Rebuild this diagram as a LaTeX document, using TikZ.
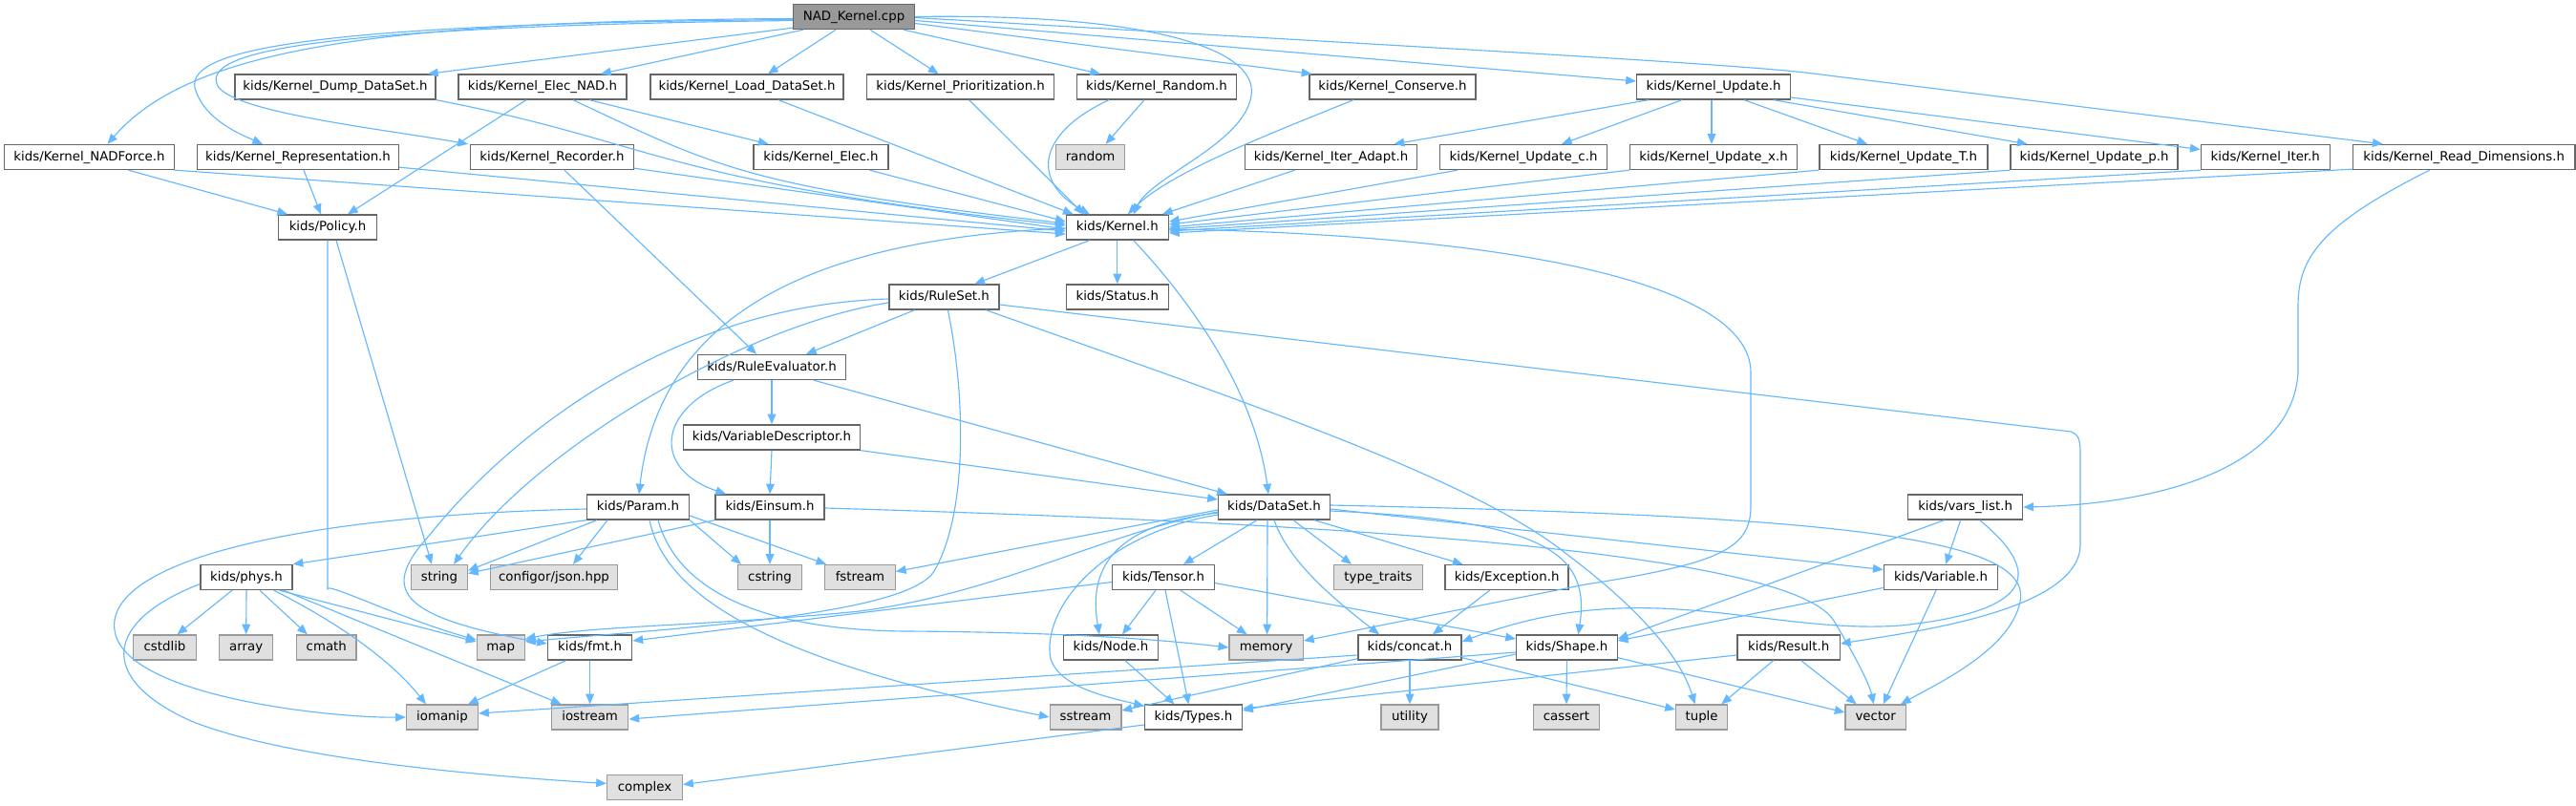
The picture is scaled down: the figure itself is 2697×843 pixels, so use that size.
\documentclass[tikz,border=0pt]{standalone}
\usepackage{fontspec}
\setmainfont{DejaVu Sans}
\usetikzlibrary{arrows.meta,calc}
\definecolor{edgec}{HTML}{63B8FF}
\definecolor{extfill}{HTML}{E0E0E0}
\definecolor{extdraw}{HTML}{999999}
\definecolor{nddraw}{HTML}{666666}
\definecolor{rootfill}{HTML}{999999}
\begin{document}
\begin{tikzpicture}[x=0.75pt,y=-0.75pt,
  nd/.style={draw=nddraw, fill=white, line width=1pt, minimum height=19.5pt, inner sep=0pt,
    font=\fontsize{10}{12}\selectfont, text height=7.4pt, text depth=2.1pt, text=black},
  ext/.style={nd, draw=extdraw, fill=extfill},
  root/.style={nd, fill=rootfill},
  dep/.style={draw=edgec, line width=0.85pt, -{Triangle[length=8pt,width=6.5pt]}},
]
\fill[white] (0,0) rectangle (2697,843);
\useasboundingbox (0,0) rectangle (2697,843);

% ---------- nodes ----------
\node[root, minimum width=95.25pt] (cpp) at (894,17.5) {NAD\_Kernel.cpp};

\node[nd, minimum width=157.5pt] (dump) at (351,91) {kids/Kernel\_Dump\_DataSet.h};
\node[nd, minimum width=132pt] (elecnad) at (568,91) {kids/Kernel\_Elec\_NAD.h};
\node[nd, minimum width=151.5pt] (load) at (782,91) {kids/Kernel\_Load\_DataSet.h};
\node[nd, minimum width=147pt] (prio) at (1005.6,91) {kids/Kernel\_Prioritization.h};
\node[nd, minimum width=125.25pt] (random) at (1211,91) {kids/Kernel\_Random.h};
\node[nd, minimum width=130.5pt] (conserve) at (1458,91) {kids/Kernel\_Conserve.h};
\node[nd, minimum width=120.75pt] (update) at (1794,91) {kids/Kernel\_Update.h};

\node[nd, minimum width=133.5pt] (nadforce) at (93.5,164.5) {kids/Kernel\_NADForce.h};
\node[nd, minimum width=158.25pt] (repr) at (312,164.5) {kids/Kernel\_Representation.h};
\node[nd, minimum width=127.9pt] (recorder) at (578,164.5) {kids/Kernel\_Recorder.h};
\node[nd, minimum width=105.75pt] (elec) at (859.5,164.5) {kids/Kernel\_Elec.h};
\node[ext, minimum width=54pt] (stdrandom) at (1141.6,164.5) {random};
\node[nd, minimum width=135pt] (iteradapt) at (1393.6,164.5) {kids/Kernel\_Iter\_Adapt.h};
\node[nd, minimum width=130.9pt] (updc) at (1595,164.5) {kids/Kernel\_Update\_c.h};
\node[nd, minimum width=131.25pt] (updx) at (1794,164.5) {kids/Kernel\_Update\_x.h};
\node[nd, minimum width=132pt] (updT) at (1993,164.5) {kids/Kernel\_Update\_T.h};
\node[nd, minimum width=131.25pt] (updp) at (2192.6,164.5) {kids/Kernel\_Update\_p.h};
\node[nd, minimum width=101.25pt] (iter) at (2371.8,164.5) {kids/Kernel\_Iter.h};
\node[nd, minimum width=174.5pt] (readdim) at (2579.7,164.5) {kids/Kernel\_Read\_Dimensions.h};

\node[nd, minimum width=77.25pt] (policy) at (343,238) {kids/Policy.h};
\node[nd, minimum width=80.25pt] (kernel) at (1169.8,238) {kids/Kernel.h};

\node[nd, minimum width=86.25pt] (ruleset) at (988.4,311) {kids/RuleSet.h};
\node[nd, minimum width=80.25pt] (status) at (1169.8,311) {kids/Status.h};

\node[nd, minimum width=116.25pt] (ruleeval) at (808,384.5) {kids/RuleEvaluator.h};
\node[nd, minimum width=138.75pt] (vardesc) at (808,458) {kids/VariableDescriptor.h};

\node[nd, minimum width=80.25pt] (param) at (668,531) {kids/Param.h};
\node[nd, minimum width=85.5pt] (einsum) at (806,531) {kids/Einsum.h};
\node[nd, minimum width=87.75pt] (dataset) at (1334,531) {kids/DataSet.h};
\node[nd, minimum width=90pt] (varslist) at (2057.6,531) {kids/vars\_list.h};

\node[nd, minimum width=72pt] (phys) at (258,604.5) {kids/phys.h};
\node[ext, minimum width=44pt] (sstring) at (460,604.5) {string};
\node[ext, minimum width=99.75pt] (json) at (580,604.5) {configor/json.hpp};
\node[ext, minimum width=50pt] (cstring) at (806,604.5) {cstring};
\node[ext, minimum width=55.1pt] (fstream) at (900.5,604.5) {fstream};
\node[nd, minimum width=80.25pt] (tensor) at (1218,604.5) {kids/Tensor.h};
\node[ext, minimum width=69.3pt] (typetraits) at (1443,604.5) {type\_traits};
\node[nd, minimum width=96.75pt] (exception) at (1577.6,604.5) {kids/Exception.h};
\node[nd, minimum width=89.6pt] (variable) at (2032,604.5) {kids/Variable.h};

\node[ext, minimum width=49.5pt] (cstdlib) at (172.5,678) {cstdlib};
\node[ext, minimum width=42pt] (sarray) at (257.7,678) {array};
\node[ext, minimum width=46.9pt] (cmath) at (341.8,678) {cmath};
\node[ext, minimum width=37.5pt] (smap) at (524.3,678) {map};
\node[nd, minimum width=66.3pt] (fmt) at (617.6,678) {kids/fmt.h};
\node[nd, minimum width=74.5pt] (kidsnode) at (1163,678) {kids/Node.h};
\node[ext, minimum width=58.1pt] (memory) at (1325.6,678) {memory};
\node[nd, minimum width=81pt] (concat) at (1476,678) {kids/concat.h};
\node[nd, minimum width=79.2pt] (shape) at (1640.4,678) {kids/Shape.h};
\node[nd, minimum width=80.5pt] (result) at (1872.7,678) {kids/Result.h};

\node[ext, minimum width=56.25pt] (iomanip) at (463,751) {iomanip};
\node[ext, minimum width=60.3pt] (iostream) at (617.6,751) {iostream};
\node[ext, minimum width=56pt] (sstream) at (1136.5,751) {sstream};
\node[nd, minimum width=76.5pt] (types) at (1249.5,751) {kids/Types.h};
\node[ext, minimum width=44.8pt] (utility) at (1476,751) {utility};
\node[ext, minimum width=52.1pt] (cassert) at (1640,751) {cassert};
\node[ext, minimum width=40.5pt] (stuple) at (1781.6,751) {tuple};
\node[ext, minimum width=47.4pt] (svector) at (1963.7,751) {vector};

\node[ext, minimum width=59.25pt] (complex) at (675,824.5) {complex};

% ---------- edges from NAD_Kernel.cpp ----------
\draw[dep] ($(cpp.west)+(0,2)$) .. controls (400,22) and (200,50) .. ($(nadforce.north)+(19,0)$);
\draw[dep] ($(cpp.west)+(0,3)$) .. controls (300,25) and (190,55) .. (205,95) .. controls (215,125) and (250,140) .. ($(repr.north)+(-37,0)$);
\draw[dep] ($(cpp.west)+(0,4)$) .. controls (320,28) and (210,55) .. (228,90) .. controls (245,118) and (400,135) .. ($(recorder.north west)+(-2,0)$);
\draw[dep] ($(cpp.south west)+(0,-2)$) -- ($(dump.north)+(97,0)$);
\draw[dep] ($(cpp.south)+(-53,0)$) -- ($(elecnad.north)+(61,0)$);
\draw[dep] ($(cpp.south)+(-19,0)$) -- ($(load.north)+(22,0)$);
\draw[dep] ($(cpp.south)+(17,0)$) -- ($(prio.north)+(-23,0)$);
\draw[dep] ($(cpp.south)+(52,0)$) -- ($(random.north)+(-59,0)$);
\draw[dep] ($(cpp.east)+(0,7)$) -- ($(conserve.north west)+(3,0)$);
\draw[dep] ($(cpp.east)+(0,4)$) -- ($(update.west)+(0,-6)$);
\draw[dep] ($(cpp.east)+(0,1)$) .. controls (1500,50) and (1800,66) .. (1890,76) -- ($(readdim.north)+(-85,0)$);
\draw[dep] (cpp.east) .. controls (1200,14) and (1318,50) .. (1310,100) .. controls (1303,150) and (1205,185) .. ($(kernel.north)+(17,0)$);

% ---------- row 1 ----------
\draw[dep] (dump.south east) .. controls (690,150) and (690,190) .. ($(kernel.west)+(0,-2)$);
\draw[dep] ($(elecnad.south)+(32,0)$) .. controls (750,175) and (780,195) .. ($(kernel.west)+(0,-4)$);
\draw[dep] ($(elecnad.south)+(49,0)$) -- ($(elec.north)+(-55,0)$);
\draw[dep] ($(elecnad.south)+(-17,0)$) -- ($(policy.north)+(21,0)$);
\draw[dep] ($(load.south)+(33,0)$) -- ($(kernel.north west)+(8,0)$);
\draw[dep] ($(prio.south)+(9,0)$) -- ($(kernel.north)+(-35,0)$);
\draw[dep] ($(random.south)+(-50,0)$) .. controls (1085,140) and (1080,190) .. ($(kernel.north)+(-29,0)$);
\draw[dep] ($(random.south)+(-13,0)$) -- ($(stdrandom.north)+(16,0)$);
\draw[dep] ($(conserve.south)+(-41,0)$) .. controls (1330,140) and (1225,180) .. ($(kernel.north)+(11,0)$);
\draw[dep] ($(update.south)+(-68,0)$) -- ($(iteradapt.north)+(66,0)$);
\draw[dep] ($(update.south)+(-33,0)$) -- ($(updc.north)+(40,0)$);
\draw[dep] ($(update.south)+(-2,0)$) -- ($(updx.north)+(-2,0)$);
\draw[dep] ($(update.south)+(32,0)$) -- ($(updT.north)+(-38,0)$);
\draw[dep] ($(update.south)+(63,0)$) -- ($(updp.north)+(-70,0)$);
\draw[dep] ($(update.east)+(0,11)$) -- ($(iter.west)+(0,-8)$);

% ---------- row 2 ----------
\draw[dep] ($(nadforce.south)+(41,0)$) -- ($(policy.north)+(-42,0)$);
\draw[dep] (nadforce.south east) -- ($(kernel.west)+(0,7)$);
\draw[dep] ($(repr.south)+(6,0)$) -- ($(policy.north)+(-7,0)$);
\draw[dep] ($(repr.south east)+(0,-3)$) -- ($(kernel.west)+(0,4)$);
\draw[dep] ($(recorder.south east)+(0,-2)$) -- ($(kernel.west)+(0,2)$);
\draw[dep] ($(recorder.south)+(13,0)$) -- ($(ruleeval.north)+(-16,0)$);
\draw[dep] ($(elec.south)+(51,0)$) -- ($(kernel.west)+(0,-6)$);
\draw[dep] ($(iteradapt.south)+(-38,0)$) -- ($(kernel.north east)+(-7,0)$);
\draw[dep] ($(updc.south)+(-69,0)$) -- ($(kernel.east)+(0,-6)$);
\draw[dep] (updx.south west) -- ($(kernel.east)+(0,-3)$);
\draw[dep] (updT.south west) -- ($(kernel.east)+(0,0)$);
\draw[dep] (updp.south west) -- ($(kernel.east)+(0,2)$);
\draw[dep] (iter.south west) -- ($(kernel.east)+(0,4)$);
\draw[dep] ($(readdim.south west)+(0,-1)$) -- ($(kernel.east)+(0,6)$);
\draw[dep] ($(readdim.south)+(-36,0)$) .. controls (2430,235) and (2406,270) .. (2406,320) -- (2406,390) .. controls (2400,490) and (2260,528) .. (varslist.east);

% ---------- Policy ----------
\draw[dep] ($(policy.south)+(9,0)$) -- ($(sstring.north)+(-8,0)$);
\draw[dep] (policy.south) -- ($(policy.south)+(0,365)$) .. controls (343,610) and (420,648) .. ($(smap.west)+(0,-8)$);

% ---------- Kernel.h ----------
\draw[dep] ($(kernel.south)+(-29,0)$) -- ($(ruleset.north)+(32,0)$);
\draw[dep] (kernel.south) -- (status.north);
\draw[dep] ($(kernel.south)+(17,0)$) .. controls (1260,330) and (1315,420) .. ($(dataset.north)+(-6,0)$);
\draw[dep] ($(kernel.west)+(0,1)$) .. controls (850,250) and (690,330) .. ($(param.north)+(1,0)$);
\draw[dep] ($(kernel.east)+(0,2)$) .. controls (1550,245) and (1833,290) .. (1833,390) -- (1833,530) .. controls (1833,575) and (1800,590) .. (1660,612) -- ($(memory.east)+(0,-7)$);

% ---------- RuleSet ----------
\draw[dep] ($(ruleset.south)+(-31,0)$) -- ($(ruleeval.north)+(36,0)$);
\draw[dep] ($(ruleset.west)+(0,6)$) .. controls (780,340) and (560,470) .. ($(sstring.north)+(15,0)$);
\draw[dep] ($(ruleset.west)+(0,2)$) .. controls (700,320) and (530,460) .. (450,560) .. controls (400,615) and (410,645) .. ($(fmt.west)+(0,-4)$);
\draw[dep] ($(ruleset.south)+(4,0)$) .. controls (1012,420) and (1012,540) .. (978,598) .. controls (950,645) and (700,658) .. ($(smap.east)+(0,-6)$);
\draw[dep] ($(ruleset.south)+(44,0)$) .. controls (1300,420) and (1540,500) .. (1640,580) .. controls (1720,640) and (1760,690) .. ($(stuple.north)+(-7,0)$);
\draw[dep] ($(ruleset.east)+(0,8)$) -- (2168,452) .. controls (2176,455) and (2178,460) .. (2178,475) -- (2178,570) .. controls (2178,640) and (2000,662) .. ($(result.east)+(0,-4)$);

% ---------- RuleEvaluator / VariableDescriptor ----------
\draw[dep] (ruleeval.south) -- (vardesc.north);
\draw[dep] ($(ruleeval.south)+(-40,0)$) .. controls (690,425) and (680,490) .. ($(einsum.north)+(-46,0)$);
\draw[dep] ($(ruleeval.south)+(44,0)$) -- ($(dataset.north west)+(10,0)$);
\draw[dep] (vardesc.south) -- (einsum.north);
\draw[dep] (vardesc.south east) -- ($(dataset.west)+(0,-8)$);

% ---------- Param ----------
\draw[dep] (param.south west) -- (phys.north east);
\draw[dep] ($(param.west)+(0,2)$) .. controls (300,540) and (110,590) .. (120,660) .. controls (130,730) and (350,752) .. (iomanip.west);
\draw[dep] ($(param.south)+(-43,0)$) -- ($(sstring.east)+(0,-7)$);
\draw[dep] ($(param.south)+(-32,0)$) -- ($(json.north)+(20,0)$);
\draw[dep] (param.south east) -- ($(cstring.north)+(-30,0)$);
\draw[dep] ($(param.east)+(0,9)$) -- ($(fstream.north west)+(2,0)$);
\draw[dep] ($(param.south)+(21,0)$) .. controls (710,620) and (800,660) .. (950,661) .. controls (1100,662) and (1200,668) .. (memory.west);
\draw[dep] ($(param.south)+(12,0)$) .. controls (700,640) and (850,700) .. (sstream.west);

% ---------- Einsum ----------
\draw[dep] (einsum.south) -- (cstring.north);
\draw[dep] (einsum.south west) -- ($(sstring.east)+(0,-4)$);
\draw[dep] ($(einsum.east)+(0,1)$) .. controls (1300,545) and (1870,570) .. (1920,650) .. controls (1950,700) and (1958,720) .. ($(svector.north)+(-2,0)$);

% ---------- DataSet ----------
\draw[dep] ($(dataset.south)+(-18,0)$) -- ($(tensor.north)+(21,0)$);
\draw[dep] ($(dataset.south)+(-7,0)$) -- ($(memory.north)+(1,0)$);
\draw[dep] ($(dataset.south)+(20,0)$) -- ($(typetraits.north)+(-28,0)$);
\draw[dep] ($(dataset.south)+(42,0)$) -- ($(exception.north)+(-46,0)$);
\draw[dep] (dataset.south) .. controls (1350,590) and (1400,630) .. ($(concat.north)+(-32,0)$);
\draw[dep] ($(dataset.east)+(0,4)$) .. controls (1620,545) and (1665,580) .. ($(shape.north)+(12,0)$);
\draw[dep] ($(dataset.east)+(0,2)$) -- ($(variable.west)+(0,-8)$);
\draw[dep] ($(dataset.east)+(0,-2)$) .. controls (1900,540) and (2130,560) .. (2115,630) .. controls (2105,680) and (2030,715) .. ($(svector.north east)+(-6,0)$);
\draw[dep] ($(dataset.west)+(0,3)$) -- ($(fstream.east)+(0,-6)$);
\draw[dep] ($(dataset.west)+(0,6)$) .. controls (1160,550) and (1140,600) .. ($(kidsnode.north)+(-12,0)$);
\draw[dep] ($(dataset.west)+(0,8)$) .. controls (1150,560) and (1090,640) .. (1100,690) .. controls (1110,720) and (1160,730) .. ($(types.north west)+(0,2)$);
\draw[dep] ($(dataset.west)+(0,5)$) .. controls (1150,560) and (1050,620) .. (900,640) .. controls (750,655) and (620,655) .. ($(smap.east)+(0,-9)$);

% ---------- Tensor ----------
\draw[dep] ($(tensor.south)+(-8,0)$) -- ($(kidsnode.north)+(12,0)$);
\draw[dep] ($(tensor.south)+(18,0)$) -- ($(memory.north)+(-20,0)$);
\draw[dep] ($(tensor.south)+(2,0)$) -- ($(types.north)+(-5,0)$);
\draw[dep] ($(tensor.east)+(0,6)$) -- ($(shape.west)+(0,-9)$);
\draw[dep] ($(tensor.west)+(0,5)$) -- ($(fmt.east)+(0,-7)$);

% ---------- Exception / concat / Shape ----------
\draw[dep] ($(exception.south)+(-18,0)$) -- ($(concat.north)+(24,0)$);
\draw[dep] (concat.south) -- (utility.north);
\draw[dep] ($(concat.south east)+(0,-3)$) -- ($(stuple.west)+(0,-8)$);
\draw[dep] ($(concat.south west)+(0,-2)$) -- ($(sstream.east)+(0,-7)$);
\draw[dep] ($(concat.west)+(0,8)$) -- ($(iomanip.east)+(0,-4)$);
\draw[dep] (shape.south) -- (cassert.north);
\draw[dep] ($(shape.west)+(0,7)$) -- ($(types.east)+(0,-7)$);
\draw[dep] ($(shape.west)+(0,5)$) -- ($(iostream.east)+(0,2)$);
\draw[dep] ($(shape.south east)+(0,-3)$) -- ($(svector.west)+(0,-5)$);

% ---------- Result / Variable / vars_list ----------
\draw[dep] ($(result.south)+(-16,0)$) -- ($(stuple.north east)+(-7,0)$);
\draw[dep] ($(result.south)+(13,0)$) -- ($(svector.north)+(-20,0)$);
\draw[dep] ($(result.west)+(0,8)$) -- ($(types.east)+(0,-9)$);
\draw[dep] ($(variable.south)+(-5,0)$) -- ($(svector.north)+(8,0)$);
\draw[dep] ($(variable.west)+(0,11)$) -- ($(shape.east)+(0,-7)$);
\draw[dep] ($(varslist.south)+(-5,0)$) -- ($(variable.north)+(5,0)$);
\draw[dep] ($(varslist.south)+(-22,0)$) -- ($(shape.east)+(0,-9)$);
\draw[dep] ($(varslist.south)+(15,0)$) .. controls (2140,600) and (2130,640) .. (1990,655) .. controls (1850,665) and (1720,600) .. ($(concat.east)+(0,-6)$);

% ---------- phys ----------
\draw[dep] ($(phys.south)+(-15,0)$) -- ($(cstdlib.north)+(13,0)$);
\draw[dep] (phys.south) -- (sarray.north);
\draw[dep] ($(phys.south)+(14,0)$) -- ($(cmath.north)+(-20,0)$);
\draw[dep] ($(phys.south east)+(-14,0)$) -- ($(smap.west)+(0,-6)$);
\draw[dep] ($(phys.south east)+(-20,0)$) .. controls (330,640) and (400,680) .. ($(iomanip.north)+(-17,0)$);
\draw[dep] ($(phys.south east)+(-10,0)$) -- ($(iostream.north)+(-30,0)$);
\draw[dep] ($(phys.west)+(0,7)$) .. controls (110,650) and (100,710) .. (200,755) .. controls (300,795) and (500,812) .. ($(complex.west)+(0,-4)$);

% ---------- fmt / Node / Types ----------
\draw[dep] ($(fmt.south)+(-25,0)$) -- ($(iomanip.north)+(27,0)$);
\draw[dep] (fmt.south) -- (iostream.north);
\draw[dep] ($(kidsnode.south)+(15,0)$) -- ($(types.north)+(-20,0)$);
\draw[dep] ($(types.west)+(0,8)$) -- ($(complex.east)+(0,-3)$);

\end{tikzpicture}
\end{document}
